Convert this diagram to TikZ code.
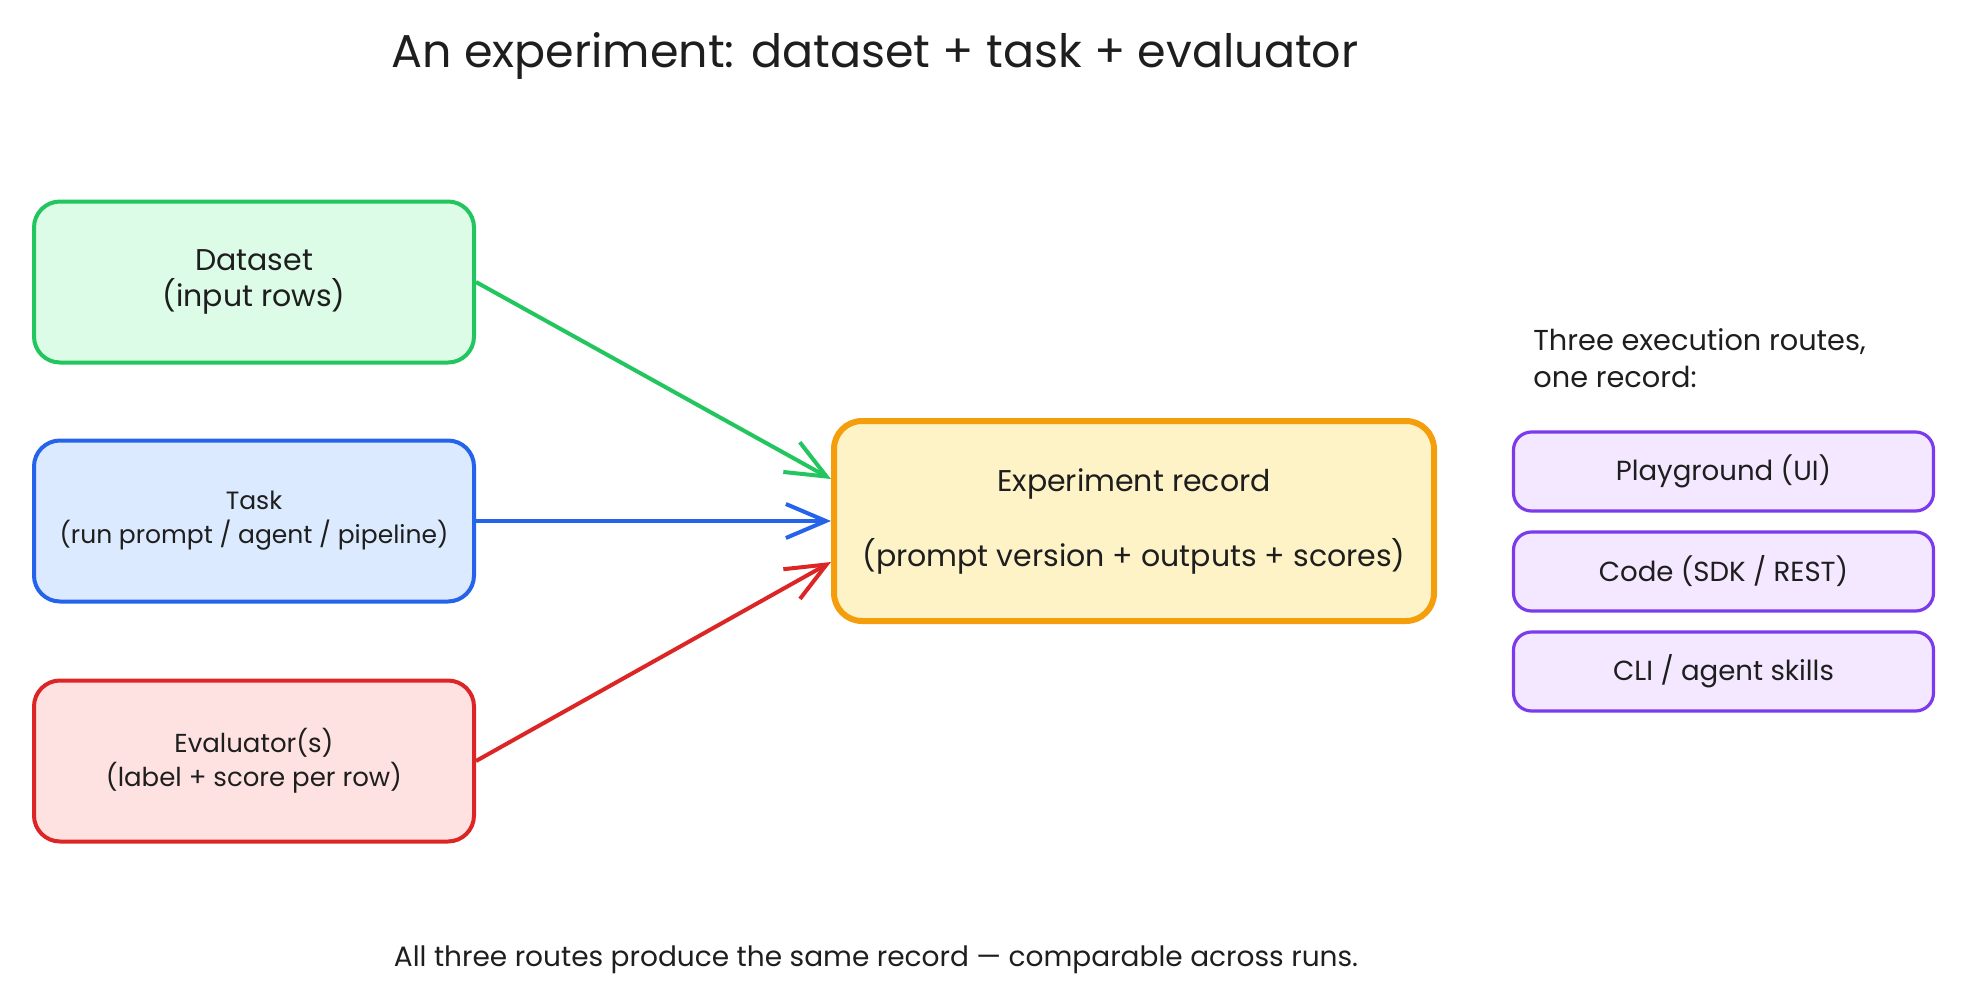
\documentclass[tikz,border=0pt]{standalone}
\usepackage{fontspec}
\setmainfont{Poppins}
\usetikzlibrary{arrows.meta,calc}
\definecolor{ink}{HTML}{1E1E1E}
\definecolor{gstroke}{HTML}{22C55E}\definecolor{gfill}{HTML}{DCFCE7}
\definecolor{bstroke}{HTML}{2563EB}\definecolor{bfill}{HTML}{DBEAFE}
\definecolor{rstroke}{HTML}{DC2626}\definecolor{rfill}{HTML}{FEE2E2}
\definecolor{ostroke}{HTML}{F59E0B}\definecolor{ofill}{HTML}{FEF3C7}
\definecolor{pstroke}{HTML}{7C3AED}\definecolor{pfill}{HTML}{F3E8FF}
\tikzset{
  inbox/.style={draw, line width=2pt, rounded corners=13pt, minimum width=220pt, minimum height=80.5pt, align=center, text=ink, inner sep=0pt},
  recbox/.style={draw=ostroke, fill=ofill, line width=3pt, rounded corners=14pt, minimum width=300pt, minimum height=100pt, align=center, text=ink, inner sep=0pt},
  routebox/.style={draw=pstroke, fill=pfill, line width=1.6pt, rounded corners=9pt, minimum width=210pt, minimum height=39.5pt, align=center, text=ink, inner sep=0pt, font=\fontsize{13.8}{16}\selectfont},
  flow/.style={line width=2pt, -{Straight Barb[length=20pt, width=17pt, line width=2pt]}},
  plain/.style={text=ink, inner sep=0pt}
}
\begin{document}
\begin{tikzpicture}[x=0.5pt,y=-0.5pt]
\useasboundingbox (0,0) rectangle (1967,1007);
\node[plain, font=\fontsize{23}{27}\selectfont] (title) at (875,56) {An experiment: dataset + task + evaluator};

\node[inbox, draw=gstroke, fill=gfill, font=\fontsize{15}{18}\selectfont] (ds) at (254,282) {Dataset\\(input rows)};
\node[inbox, draw=bstroke, fill=bfill, font=\fontsize{12.5}{17}\selectfont] (task) at (254,521) {Task\\(run prompt / agent / pipeline)};
\node[inbox, draw=rstroke, fill=rfill, font=\fontsize{13}{17}\selectfont] (ev) at (254,761) {Evaluator(s)\\(label + score per row)};

\node[recbox, font=\fontsize{15}{18.75}\selectfont] (rec) at (1134,521) {Experiment record\\[18.75pt](prompt version + outputs + scores)};

\draw[flow, gstroke] (ds.east) -- ($(rec.west)+(0,-42)$);
\draw[flow, bstroke] (task.east) -- (rec.west);
\draw[flow, rstroke] (ev.east) -- ($(rec.west)+(0,41)$);

\node[plain, anchor=west, align=left, font=\fontsize{14.4}{18.5}\selectfont] (routes) at (1533,358) {Three execution routes,\\one record:};
\node[routebox] (pg) at (1723.5,471.5) {Playground (UI)};
\node[routebox] (code) at (1723.5,571.5) {Code (SDK / REST)};
\node[routebox] (cli) at (1723.5,671.5) {CLI / agent skills};

\node[plain, font=\fontsize{14}{17}\selectfont] (foot) at (876,960) {All three routes produce the same record — comparable across runs.};
\end{tikzpicture}
\end{document}
